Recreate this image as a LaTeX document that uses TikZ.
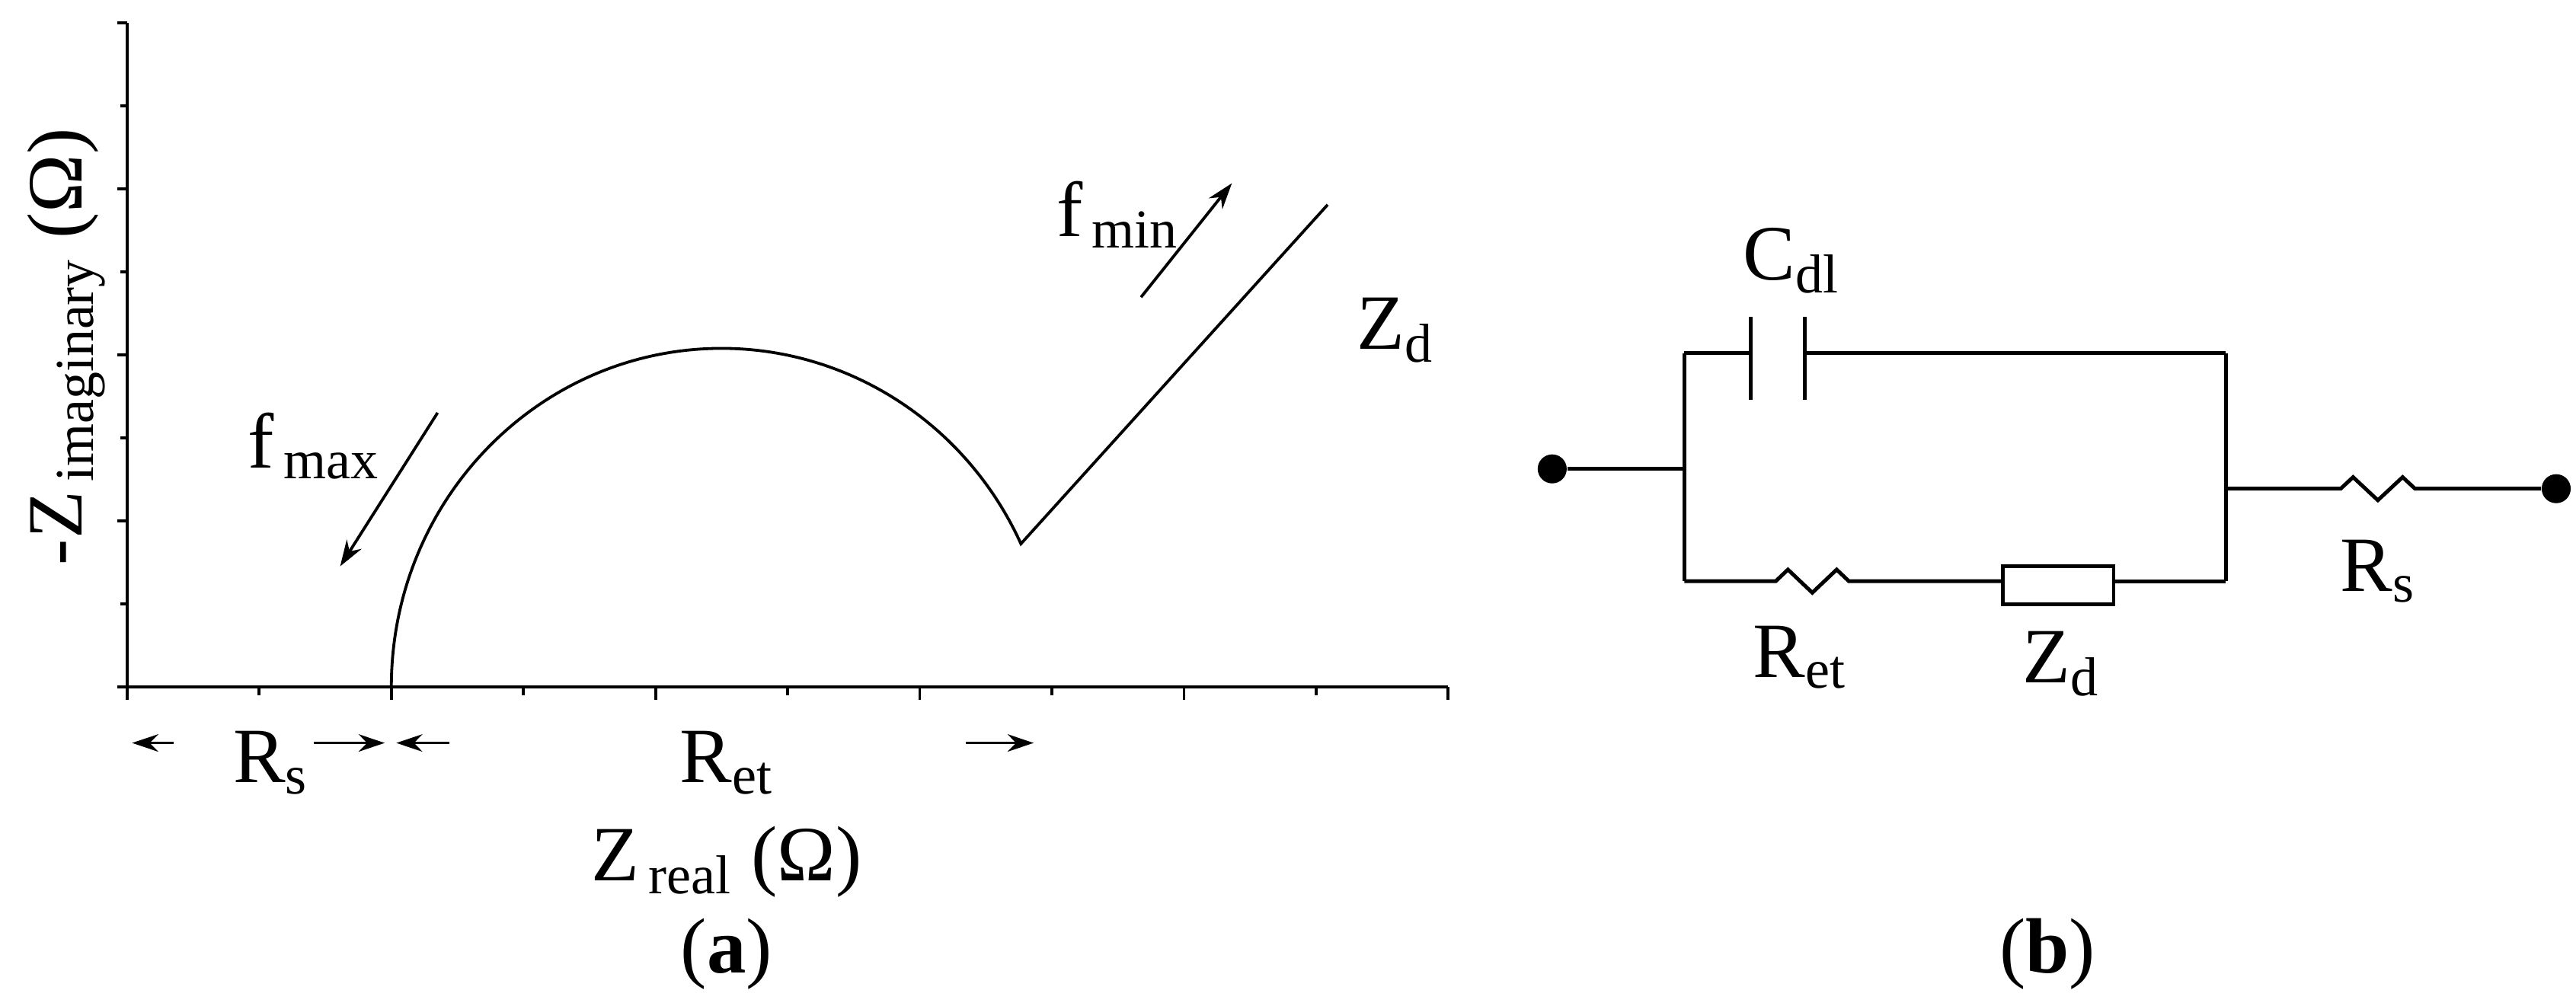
\documentclass[tikz,border=0pt]{standalone}
\usepackage{fontspec}
\setmainfont{Liberation Serif}
\usetikzlibrary{positioning,arrows.meta}
\tikzset{
  lbl/.style={font=\fontsize{27}{30}\selectfont, inner sep=0pt},
  wire/.style={line width=1.3pt},
  dot/.style={circle,fill=black,minimum size=10pt,inner sep=0pt},
  arr/.style={-{Stealth[length=9pt,width=6pt]}, line width=1pt}
}
\newcommand{\zig}[2]{-- ++(#1*0.125,0) -- ++(#1*0.125,-#2) -- ++(#1*0.25,2*#2) -- ++(#1*0.25,-2*#2) -- ++(#1*0.125,#2) -- ++(#1*0.125,0)}
\begin{document}
\begin{tikzpicture}[x=0.02cm, y=-0.02cm]
  \useasboundingbox (0,0) rectangle (1560,609);
  % axes
  \coordinate (O) at (77,416);
  \coordinate (Ytop) at (77,14);
  \coordinate (Xend) at (877,416);
  \draw[line width=1pt] (Ytop) -- (O) -- (Xend);
  \foreach \i in {0,...,8} {
    \pgfmathsetmacro{\len}{mod(\i,2)==0 ? 6 : 4}
    \draw[line width=1pt] (77,416-\i*50.25) -- ++(-\len,0);
  }
  \foreach \i in {0,...,10} {
    \pgfmathsetmacro{\len}{mod(\i,2)==0 ? 8 : 5}
    \draw[line width=1pt] (77+\i*80,416) -- ++(0,\len);
  }
  % Nyquist curve
  \coordinate (Cstart) at (237,416);
  \coordinate (Cend) at (804,124);
  \draw[line width=1pt] (Cstart) arc[start angle=180, end angle=335, x radius=200, y radius=205] coordinate (Ckink) -- (Cend);
  % frequency arrows
  \coordinate (fa1) at (265,250); \coordinate (fa2) at (206,343);
  \coordinate (fb1) at (691,180); \coordinate (fb2) at (746,111);
  \draw[arr] (fa1) -- (fa2);
  \draw[arr] (fb1) -- (fb2);
  \node[lbl] (fmax) at (190,270) {f\textsubscript{\,max}};
  \node[lbl] (fmin) at (677,130) {f\textsubscript{\,min}};
  \node[lbl] (Zd) at (845,200) {Z\textsubscript{d}};
  \node[lbl, rotate=90] (ylab) at (40,210) {-Z\textsubscript{\,imaginary} (Ω)};
  % x labels
  \coordinate (r1) at (80,450); \coordinate (r1s) at (105,450);
  \coordinate (r2s) at (190,450); \coordinate (r2) at (233,450);
  \coordinate (r3) at (240,450); \coordinate (r3s) at (272,450);
  \coordinate (r4s) at (585,450); \coordinate (r4) at (626,450);
  \draw[arr] (r1s) -- (r1);
  \draw[arr] (r2s) -- (r2);
  \draw[arr] (r3s) -- (r3);
  \draw[arr] (r4s) -- (r4);
  \node[lbl] (Rs) at (164,462) {R\textsubscript{s}};
  \node[lbl] (Ret) at (440,462) {R\textsubscript{et}};
  \node[lbl] (xlab) at (440,522) {Z\textsubscript{\,real} (Ω)};
  \node[lbl] (capa) at (440,578) {(\textbf{a})};
  % circuit
  \node[dot] (inA) at (940,284) {};
  \node[dot] (outB) at (1548,296) {};
  \coordinate (jL) at (1020,284);
  \coordinate (jR) at (1348,296);
  \draw[wire] (inA) -- (jL);
  \draw[wire] (1020,214) -- (1020,352);
  \draw[wire] (1348,214) -- (1348,352);
  % capacitor branch
  \draw[wire] (1020,214) -- (1060,214);
  \draw[wire] (1060,192) -- (1060,242);
  \draw[wire] (1093,192) -- (1093,242);
  \draw[wire] (1093,214) -- (1348,214);
  % resistor + Warburg branch
  \draw[wire] (1020,352) -- (1068,352) \zig{59}{7} -- (1213,352);
  \draw[wire] (1213,343) rectangle (1280,366);
  \draw[wire] (1280,352) -- (1348,352);
  % series resistor
  \draw[wire] (jR) -- (1410,296) \zig{60}{7} -- (outB);
  \node[lbl] (Cdl) at (1085,158) {C\textsubscript{dl}};
  \node[lbl] (Retb) at (1090,398) {R\textsubscript{et}};
  \node[lbl] (Zdb) at (1248,402) {Z\textsubscript{d}};
  \node[lbl] (Rsb) at (1440,346) {R\textsubscript{s}};
  \node[lbl] (capb) at (1240,578) {(\textbf{b})};
\end{tikzpicture}
\end{document}
